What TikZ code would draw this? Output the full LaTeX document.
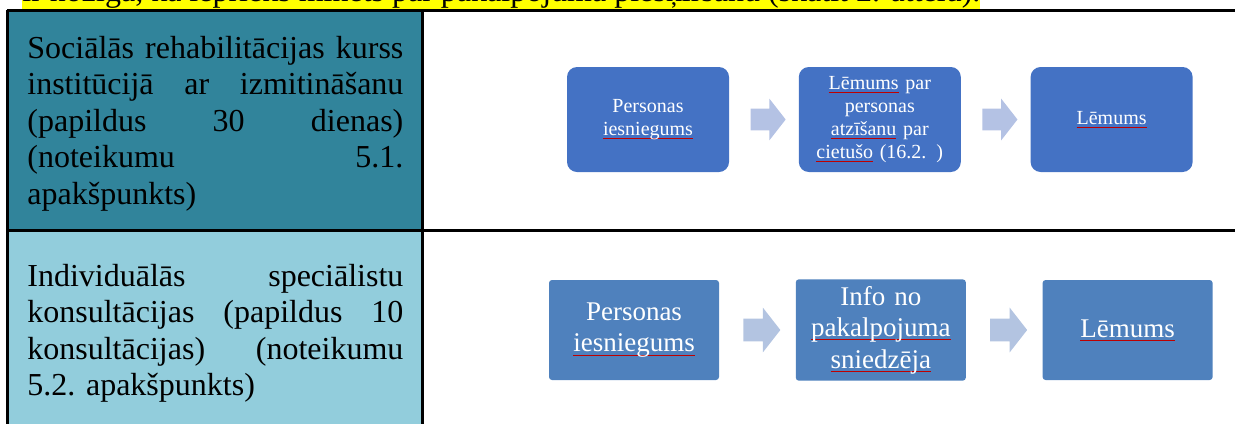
\documentclass[tikz,border=0pt]{standalone}
\usepackage{fontspec}
\setmainfont{Liberation Serif}
\usetikzlibrary{positioning,calc,shapes.arrows}

\definecolor{cellteal}{HTML}{31849B}
\definecolor{celllight}{HTML}{92CDDC}
\definecolor{boxA}{HTML}{4472C4}
\definecolor{arrowA}{HTML}{B4C2E4}
\definecolor{boxB}{HTML}{4F81BD}
\definecolor{arrowB}{HTML}{B3C4E1}
\definecolor{hilite}{HTML}{FFFF00}

% red spell-check underline
\newcommand{\spell}[1]{\leavevmode\sbox0{#1}\rlap{\color{red!75!black}\rule[-1.8pt]{\wd0}{0.4pt}}\usebox0}
\hbadness=10000

\begin{document}
\begin{tikzpicture}[x=0.5pt, y=-0.5pt,
    rule/.style={line width=1.5pt},
    celltext/.style={text width=188pt, align=justify, inner sep=0pt, font=\fontsize{16}{18.3}\selectfont},
    stepA/.style={fill=boxA, rounded corners=5pt, minimum width=81pt, minimum height=52.5pt, text width=78pt, inner xsep=1.5pt, align=center, text=white, font=\fontsize{10}{11.5}\selectfont},
    stepB/.style={fill=boxB, rounded corners=1.5pt, minimum width=85pt, minimum height=50pt, text width=82pt, inner xsep=1.5pt, align=center, text=white, font=\fontsize{13.5}{15.8}\selectfont},
    arrA/.style={single arrow, fill=arrowA, minimum height=17.5pt, inner xsep=0pt, inner ysep=5.25pt, single arrow head extend=5pt, single arrow tip angle=104},
    arrB/.style={single arrow, fill=arrowB, minimum height=18.5pt, inner xsep=0pt, inner ysep=5.5pt, single arrow head extend=5.5pt, single arrow tip angle=104}]

  \clip (0,0) rectangle (1235,424);

  % line cut off above the table
  \node[fill=hilite, anchor=base west, inner sep=0pt, text height=11.5pt, text depth=3.8pt, font=\fontsize{16}{18.3}\selectfont] (intro) at (22,1.5) {ir nozīga, ka iepriekš minēts par pakalpojuma piešķiršanu (skatīt 2. attēlu).};

  % table cells
  \fill[cellteal] (8,11) rectangle (422,230);
  \fill[celllight] (8,230) rectangle (422,424);
  \draw[rule] (7,10.5) -- (1235,10.5);
  \draw[rule] (7,230) -- (1235,230);
  \draw[rule] (7.5,9.75) -- (7.5,424);
  \draw[rule] (422,9.75) -- (422,424);

  \node[celltext, anchor=base west] (kurss) at (27,58) {Sociālās rehabilitācijas kurss\linebreak institūcijā ar izmitināšanu\linebreak (papildus 30 dienas)\linebreak (noteikumu 5.1.\linebreak apakšpunkts)};
  \node[celltext, anchor=base west] (konsult) at (27,286) {Individuālās speciālistu\linebreak konsultācijas (papildus 10\linebreak konsultācijas) (noteikumu\linebreak 5.2. apakšpunkts)};

  % first row
  \node[stepA] (iesnA) at (648,119.5) {Personas\\ \spell{iesniegums}};
  \node[stepA, right=34.5pt of iesnA] (atzis) {\spell{Lēmums} par\\ personas\\ \spell{atzīšanu} par\\ \spell{cietušo} (16.2. )};
  \node[stepA, right=34.5pt of atzis] (lemA) {\spell{Lēmums}};
  \node[arrA] (a1) at ($(iesnA.east)!0.5!(atzis.west)$) {};
  \node[arrA] (a2) at ($(atzis.east)!0.5!(lemA.west)$) {};

  % second row
  \node[stepB] (iesnB) at (634,330) {Personas\\ \spell{iesniegums}};
  \node[stepB, right=38pt of iesnB] (info) {Info no\\ \spell{pakalpojuma}\\ \spell{sniedzēja}};
  \node[stepB, right=38pt of info] (lemB) {\spell{Lēmums}};
  \node[arrB] (b1) at ($(iesnB.east)!0.5!(info.west)$) {};
  \node[arrB] (b2) at ($(info.east)!0.5!(lemB.west)$) {};
\end{tikzpicture}
\end{document}
